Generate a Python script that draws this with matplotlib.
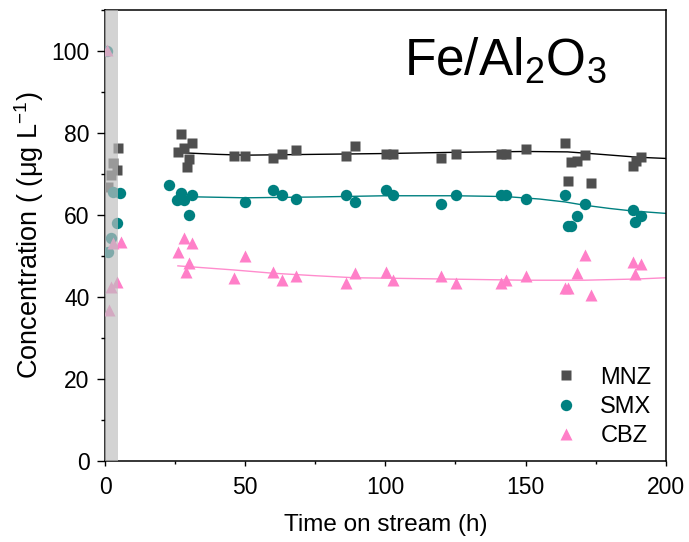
import matplotlib
matplotlib.use("Agg")
import matplotlib.pyplot as plt
import numpy as np

plt.rcParams['font.family'] = ['Liberation Sans', 'DejaVu Sans']
plt.rcParams['mathtext.default'] = 'regular'

# ---- data ----
mnz_x = [1.2, 2.0, 3.0, 4.4, 4.6,
         26.2, 27.0, 28.0, 29.2, 30.0, 30.9,
         46.1, 50.1, 60.1, 63.1, 68.1, 86.1, 89.0, 100.2, 102.9,
         120.0, 125.1, 141.1, 143.2, 150.1, 164.0, 165.2, 166.1, 168.5, 171.2, 173.2,
         188.2, 189.4, 191.1]
mnz_y = [66.9, 69.8, 72.6, 71.1, 76.4,
         75.3, 79.8, 76.4, 71.8, 73.7, 77.5,
         74.4, 74.5, 74.0, 75.0, 75.9, 74.5, 76.9, 75.0, 75.0,
         74.0, 75.0, 75.0, 75.0, 76.0, 77.6, 68.4, 73.0, 73.2, 74.6, 67.7,
         72.0, 73.2, 74.2]

smx_x = [0.8, 1.2, 2.0, 3.0, 4.2, 5.4,
         23.0, 25.8, 27.0, 28.2, 30.0, 30.9,
         50.1, 60.1, 63.1, 68.1, 86.1, 89.0, 100.2, 102.9,
         120.0, 125.1, 141.1, 143.2, 150.1, 164.0, 165.2, 166.3, 168.2, 171.2,
         188.2, 189.0, 191.1]
smx_y = [100.0, 51.0, 54.3, 65.5, 58.1, 65.4,
         67.3, 63.7, 65.4, 63.7, 60.0, 64.9,
         63.2, 66.1, 64.9, 63.9, 65.0, 63.2, 66.1, 64.9,
         62.8, 65.0, 64.9, 64.9, 63.9, 64.9, 57.4, 57.4, 59.8, 62.7,
         61.2, 58.2, 59.8]

cbz_x = [0.6, 1.4, 2.0, 3.0, 4.2, 5.6,
         26.2, 28.0, 28.9, 30.1, 31.0,
         46.1, 50.1, 60.1, 63.1, 68.1, 86.1, 89.0, 100.2, 102.9,
         120.0, 125.1, 141.1, 143.2, 150.1, 164.0, 165.2, 168.2, 171.2, 173.2,
         188.2, 189.0, 191.1]
cbz_y = [100.2, 36.8, 42.5, 53.1, 43.7, 53.3,
         51.1, 54.3, 46.0, 48.2, 53.2,
         44.6, 50.0, 46.2, 44.1, 45.2, 43.3, 45.8, 46.2, 44.1,
         45.2, 43.3, 43.3, 44.1, 45.2, 42.3, 42.3, 45.9, 50.2, 40.4,
         48.5, 45.6, 48.0]

# fitted trend curves
mnz_fit_x = [27, 40, 50, 75, 100, 125, 150, 165, 175, 190, 200]
mnz_fit_y = [75.2, 74.8, 74.6, 74.8, 75.0, 75.3, 75.5, 75.4, 74.9, 74.1, 73.8]
smx_fit_x = [27, 50, 75, 100, 125, 143, 155, 164, 171, 180, 188, 200]
smx_fit_y = [64.5, 64.2, 64.4, 64.7, 64.7, 64.5, 63.9, 63.2, 62.4, 61.6, 61.0, 60.4]
cbz_fit_x = [26, 46, 60, 75, 89, 100, 120, 150, 171, 190, 200]
cbz_fit_y = [47.6, 46.6, 45.8, 45.2, 44.7, 44.6, 44.4, 44.1, 44.1, 44.4, 44.7]

shade_span = [0, 4.5]
series_names = ['MNZ', 'SMX', 'CBZ']
x_ticks = [0, 50, 100, 150, 200]
y_ticks = [0, 20, 40, 60, 80, 100]

c_mnz = '#4f4f4f'
c_smx = '#008080'
c_cbz = '#ff7fc8'

fig = plt.figure(figsize=(6.89, 5.42), dpi=100)
ax = fig.add_axes([0.1524, 0.1494, 0.8138, 0.8321])

ax.plot(mnz_fit_x, mnz_fit_y, color='black', lw=1.0, zorder=2)
ax.plot(smx_fit_x, smx_fit_y, color=c_smx, lw=1.0, zorder=2)
ax.plot(cbz_fit_x, cbz_fit_y, color='#ff8ccd', lw=1.0, zorder=2)

ax.plot(mnz_x, mnz_y, 's', ms=7.3, color=c_mnz, mec='none', label=series_names[0], zorder=3)
ax.plot(smx_x, smx_y, 'o', ms=8.2, color=c_smx, mec='none', label=series_names[1], zorder=3)
ax.plot(cbz_x, cbz_y, '^', ms=9, color=c_cbz, mec='none', label=series_names[2], zorder=3)

ax.axvspan(shade_span[0], shade_span[1], color='#bebebe', alpha=0.67, lw=0, zorder=10)

ax.set_xlim(0, 200)
ax.set_ylim(0, 110)
ax.set_xticks(x_ticks)
ax.set_yticks(y_ticks)
ax.set_xticks([25, 75, 125, 175], minor=True)
ax.set_yticks([10, 30, 50, 70, 90, 110], minor=True)
ax.tick_params(axis='both', which='both', direction='out', labelsize=16.5, width=1.0,
               top=False, right=False)
ax.tick_params(axis='x', which='major', length=3.6, pad=7)
ax.tick_params(axis='x', which='minor', length=2.2)
ax.tick_params(axis='y', which='major', length=5.5, pad=5.5)
ax.tick_params(axis='y', which='minor', length=3)
for s in ax.spines.values():
    s.set_linewidth(1.1)

ax.set_xlabel('Time on stream (h)', fontsize=17.5, labelpad=11)
ax.set_ylabel('Concentration ( (μg L$^{-1}$)', fontsize=19.5, labelpad=4)

ax.text(0.533, 0.856, 'Fe/Al$_2$O$_3$', transform=ax.transAxes, fontsize=37,
        ha='left', va='baseline')

leg = ax.legend(loc='lower right', frameon=False, fontsize=17, handletextpad=0.95,
                labelspacing=0.3, borderaxespad=0.2, borderpad=0.4, handlelength=1.0)

fig.savefig('out.png', dpi=100)
